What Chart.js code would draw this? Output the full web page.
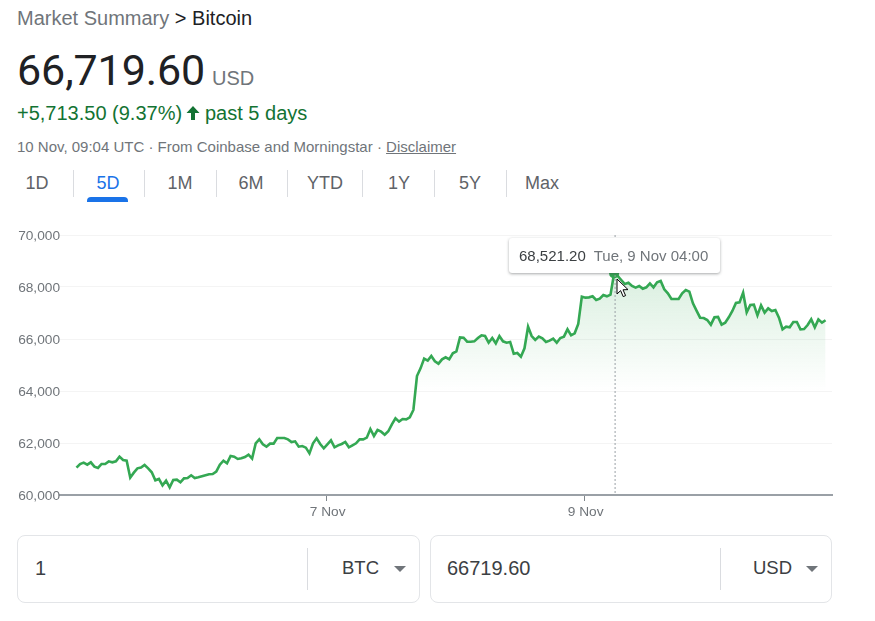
<!DOCTYPE html>
<html><head><meta charset="utf-8">
<style>
html,body{margin:0;padding:0;background:#fff;width:875px;height:621px;overflow:hidden;font-family:"Liberation Sans",Arial,sans-serif;}
.t{position:absolute;white-space:nowrap;line-height:1;}
.sep{position:absolute;width:1px;background:#dadce0;}
.box{position:absolute;border:1px solid #e3e5e8;border-radius:8px;box-sizing:border-box;top:535px;height:68px;}
.tri{position:absolute;width:0;height:0;border-left:6px solid transparent;border-right:6px solid transparent;border-top:6px solid #70757a;top:566px;}
#wrap{position:absolute;left:0;top:225px;width:875px;height:300px;}
#tip{position:absolute;left:509px;top:238px;width:211px;height:35px;background:#fff;border-radius:3px;box-shadow:0 1px 3px rgba(60,64,67,.45);box-sizing:border-box;font-size:15px;line-height:35px;padding-left:10px;white-space:nowrap;color:#3c4043;}
#tip span{color:#70757a;margin-left:8px;}
</style></head><body>
<div class="t" style="left:17px;top:8px;font-size:20px;color:#70757a;">Market Summary <span style="color:#202124">&gt; Bitcoin</span></div>
<div class="t" style="left:17px;top:49px;font-family:Roboto;font-size:43px;color:#202124;letter-spacing:-.1px;">66,719.60</div>
<div class="t" style="left:212px;top:68px;font-size:20px;color:#70757a;">USD</div>
<div class="t" style="left:17px;top:103px;font-size:20px;color:#137333;">+5,713.50 (9.37%)</div>
<svg style="position:absolute;left:185px;top:105px" width="16" height="16" viewBox="0 0 16 16"><path d="M8 1 L14.5 8 L10 8 L10 15 L6 15 L6 8 L1.5 8 Z" fill="#137333"/></svg>
<div class="t" style="left:205px;top:103px;font-size:20px;color:#137333;">past 5 days</div>
<div class="t" style="left:17px;top:139px;font-size:15px;color:#70757a;">10 Nov, 09:04 UTC · From Coinbase and Morningstar · <span style="text-decoration:underline;">Disclaimer</span></div>
<div id="tabs"></div>
<div style="position:absolute;left:87px;top:197px;width:41px;height:5px;background:#1a73e8;border-radius:4px 4px 0 0;"></div>
<div id="wrap"><canvas id="c" width="875" height="300"></canvas></div>
<div id="tip">68,521.20<span>Tue, 9 Nov 04:00</span></div>
<svg style="position:absolute;left:616px;top:278px" width="14" height="21" viewBox="0 0 14 21"><path d="M1 1 L1 16 L4.6 12.6 L7.2 18.6 L9.6 17.6 L7 11.8 L12 11.6 Z" fill="#fff" stroke="#000" stroke-width="1"/></svg>
<div class="box" style="left:17px;width:403px;"></div>
<div class="box" style="left:430px;width:402px;"></div>
<div class="sep" style="left:307px;top:548px;height:42px;"></div>
<div class="sep" style="left:720px;top:548px;height:42px;"></div>
<div class="t" style="left:35px;top:558px;font-size:20px;color:#3c4043;">1</div>
<div class="t" style="left:342px;top:559px;font-size:18.5px;color:#3c4043;">BTC</div>
<div class="tri" style="left:394px;"></div>
<div class="t" style="left:447px;top:558px;font-size:20px;color:#3c4043;">66719.60</div>
<div class="t" style="left:753px;top:559px;font-size:18.5px;color:#3c4043;">USD</div>
<div class="tri" style="left:806px;"></div>
<script src="https://cdn.jsdelivr.net/npm/chart.js@4"></script>
<script>
const tabLabels = ["1D","5D","1M","6M","YTD","1Y","5Y","Max"];
const prices = [
61050,61190,61244,61167,61257,61090,61039,61193,61193,61295,
61257,61295,61475,61346,61321,60667,60859,61026,61052,61154,
61026,60872,60564,60616,60372,60552,60295,60577,60590,60487,
60641,60654,60757,60654,60680,60718,60757,60795,60808,60898,
61167,61321,61218,61500,61475,61385,61410,61462,61551,61398,
61987,62141,61949,61859,61975,61975,62192,62192,62192,62141,
62038,62064,61859,61885,61821,61603,61987,62180,61962,61795,
61949,62103,61834,61911,61962,62039,61834,61911,61988,62141,
62141,62206,62539,62270,62500,62436,62321,62449,62718,62949,
62821,62923,62911,62988,63270,64577,64872,65244,65167,65346,
65141,65051,65218,65295,65218,65449,65526,66064,66051,65897,
65897,65910,66039,66141,66115,65859,66039,65833,66115,65910,
65859,65885,65436,65462,65321,65641,66474,66115,65962,66090,
66026,65885,65936,66013,65859,66039,66090,66372,66141,66218,
66577,67628,67590,67602,67641,67500,67551,67692,67641,67705,
68521.2,68423,68269,68115,68166,68038,67974,68038,67936,67987,
68141,67987,68179,68230,67910,67756,67538,67538,67538,67756,
67884,67820,67372,67090,66820,66808,66731,66551,66833,66846,
66551,66628,66833,67077,67384,67410,67782,67025,67308,67320,
66910,67295,67013,67179,67077,67115,66820,66372,66474,66449,
66654,66654,66372,66384,66538,66756,66449,66756,66628,66719.6
];
const yTicks = [60000,62000,64000,66000,68000,70000];
const xTickPositions = [69.8,141.8];
const xTickLabels = ["7 Nov","9 Nov"];
const activeIndex = 150;

const tabCenters = [37,108,180,251,325,399,470,542];
const tabSeps = [73,144,216,287,362,434,506];
const tabs = document.getElementById('tabs');
tabLabels.forEach((l,i)=>{
  const d=document.createElement('div');d.className='t';d.textContent=l;
  d.style.cssText='left:'+(tabCenters[i]-40)+'px;width:80px;text-align:center;top:174px;font-size:18px;color:'+(l==='5D'?'#1a73e8':'#5f6368');
  tabs.appendChild(d);
});
tabSeps.forEach(x=>{const s=document.createElement('div');s.className='sep';s.style.left=x+'px';s.style.top='170px';s.style.height='27px';tabs.appendChild(s);});

const crosshair = {
  id:'crosshair',
  afterDatasetsDraw(chart){
    const {ctx,scales:{x,y}} = chart;
    const px = x.getPixelForValue(activeIndex);
    ctx.save();
    ctx.strokeStyle='#9aa0a6';ctx.lineWidth=1;ctx.setLineDash([2,2]);
    ctx.beginPath();ctx.moveTo(px+1,y.getPixelForValue(70000));ctx.lineTo(px+1,y.getPixelForValue(60000));ctx.stroke();
    ctx.restore();
  }
};
new Chart(document.getElementById('c'),{
  type:'line',
  data:{datasets:[{
    data:prices.map((v,i)=>({x:i,y:v})),
    borderColor:'#34a853',borderWidth:2.6,tension:0,
    pointRadius:c=>c.dataIndex===activeIndex?5:0,
    pointBackgroundColor:'#34a853',pointBorderWidth:0,
    fill:'start',
    backgroundColor:c=>{
      const ch=c.chart;if(!ch.chartArea)return 'transparent';
      const ys=ch.scales.y;
      const g=ch.ctx.createLinearGradient(0,ys.getPixelForValue(68500),0,ys.getPixelForValue(64000));
      g.addColorStop(0,'rgba(52,168,83,.18)');g.addColorStop(1,'rgba(52,168,83,0)');
      return g;
    }
  }]},
  plugins:[crosshair],
  options:{
    responsive:false,animation:false,devicePixelRatio:1,
    layout:{padding:{top:10,right:43,left:0,bottom:0}},
    plugins:{legend:{display:false},tooltip:{enabled:false}},
    events:[],
    scales:{
      x:{type:'linear',min:-4.6,max:210.8,
        afterBuildTicks(a){a.ticks=xTickPositions.map(v=>({value:v}));},
        afterFit(a){a.height=30;},
        ticks:{autoSkip:false,maxRotation:0,padding:3,labelOffset:1,color:'#70757a',font:{family:'"Liberation Sans"',size:13.7},
          callback:v=>xTickLabels[xTickPositions.indexOf(v)]},
        grid:{drawOnChartArea:false,drawTicks:true,tickLength:6,color:'#80868b',lineWidth:1},
        border:{display:true,color:'#9aa0a6',width:2}},
      y:{type:'linear',min:60000,max:70000,
        afterBuildTicks(a){a.ticks=yTicks.map(v=>({value:v}));},
        afterFit(a){a.width=60;},
        ticks:{padding:0,labelOffset:1,color:'#70757a',font:{family:'"Liberation Sans"',size:13.7},callback:v=>v.toLocaleString('en-US')},
        grid:{drawTicks:false,color:'#f4f4f4',lineWidth:1},
        border:{display:false}}
    }
  }
});
</script>
</body></html>
